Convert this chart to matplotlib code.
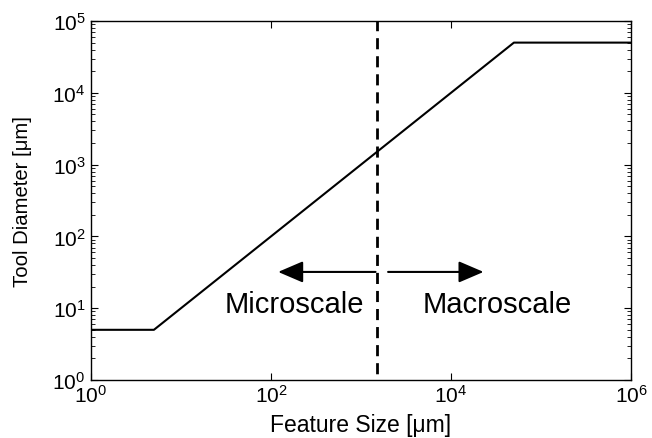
import matplotlib
matplotlib.use("Agg")
import matplotlib.pyplot as plt
from matplotlib.ticker import LogLocator, NullLocator, NullFormatter

plt.rcParams['font.family'] = ['Liberation Sans', 'DejaVu Sans']
plt.rcParams['mathtext.fontset'] = 'custom'
plt.rcParams['mathtext.rm'] = 'Liberation Sans'

# Tool diameter vs. feature size (breakpoints of the piecewise curve)
feature_size = [1, 5, 5e4, 1e6]
tool_diameter = [5, 5, 5e4, 5e4]

# Micro/macro boundary and annotations
boundary = 1500
arrow_y = 32
left_arrow = (1450, 120)     # (tail, head) in feature size
right_arrow = (2000, 2.3e4)
labels = ["Microscale", "Macroscale"]
label_x = [182, 3.3e4]
label_y = 8.85

fig = plt.figure(figsize=(6.52, 4.39), dpi=100)
ax = fig.add_axes([91/652, 1 - 381/439, (631-91)/652, (381-22)/439])

ax.plot(feature_size, tool_diameter, color='black', lw=1.5)
ax.plot([boundary, boundary], [1e5, 1], color='black', lw=2,
        ls=(7, (4, 2.5)))

astyle = '-|>,head_length=0.7,head_width=0.3'
for tail, head in (left_arrow, right_arrow):
    ax.annotate('', xy=(head, arrow_y), xytext=(tail, arrow_y),
                arrowprops=dict(arrowstyle=astyle, color='black', lw=1.5,
                                mutation_scale=22, shrinkA=0, shrinkB=0))
for t, x in zip(labels, label_x):
    ax.text(x, label_y, t, ha='center', va='baseline', fontsize=21)

ax.set_xscale('log')
ax.set_yscale('log')
ax.set_xlim(1, 1e6)
ax.set_ylim(1, 1e5)
ax.xaxis.set_major_locator(LogLocator(base=100))
ax.xaxis.set_minor_locator(NullLocator())
ax.yaxis.set_major_locator(LogLocator(base=10))
ax.yaxis.set_minor_locator(LogLocator(base=10, subs=range(2, 10)))
ax.yaxis.set_minor_formatter(NullFormatter())
ax.tick_params(which='both', direction='in', top=True, right=True, labelsize=15)
ax.tick_params(axis='y', pad=4)
ax.tick_params(axis='x', pad=3)
ax.tick_params(which='major', length=5)
ax.tick_params(which='minor', length=3)
for s in ax.spines.values():
    s.set_linewidth(1.0)

ax.set_xlabel('Feature Size [μm]', fontsize=16.5)
ax.set_ylabel('Tool Diameter [μm]', fontsize=14.6)
ax.xaxis.set_label_coords(0.5, (381 - 414) / 359)
ax.yaxis.set_label_coords((32 - 91) / 540, 0.5)

fig.savefig('out.png', dpi=100)
